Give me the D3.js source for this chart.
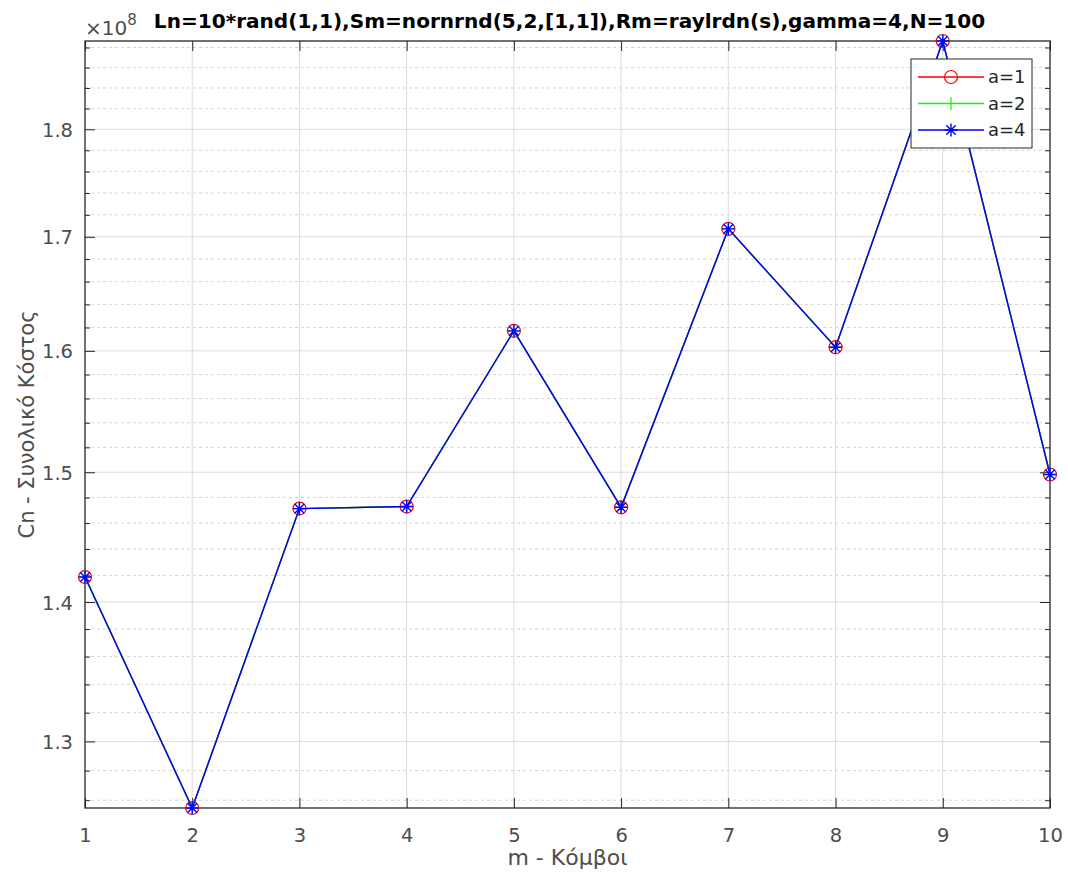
<!DOCTYPE html>
<html><head><meta charset="utf-8">
<script src="https://cdn.jsdelivr.net/npm/d3@7"></script>
<style>
html,body{margin:0;padding:0;background:#fff;}
svg{display:block;font-family:"DejaVu Sans",sans-serif;}
</style></head>
<body>
<svg id="chart" width="1068" height="884"></svg>
<script>
// ---- data ----
const nodes = [1,2,3,4,5,6,7,8,9,10];
const costA1 = [1.4187e8,1.2548e8,1.4713e8,1.4729e8,1.6171e8,1.4723e8,1.7072e8,1.6031e8,1.8865e8,1.4982e8];
const costA2 = [1.4187e8,1.2548e8,1.4713e8,1.4729e8,1.6171e8,1.4723e8,1.7072e8,1.6031e8,1.8865e8,1.4982e8];
const costA4 = [1.4187e8,1.2548e8,1.4713e8,1.4729e8,1.6171e8,1.4723e8,1.7072e8,1.6031e8,1.8865e8,1.4982e8];
const seriesNames = ["a=1","a=2","a=4"];
const yMajorTicks = [1.3e8,1.4e8,1.5e8,1.6e8,1.7e8,1.8e8];
const yMinorTicks = [1.26e8,1.28e8,1.32e8,1.34e8,1.36e8,1.38e8,1.42e8,1.44e8,1.46e8,1.48e8,1.52e8,1.54e8,1.56e8,1.58e8,1.62e8,1.64e8,1.66e8,1.68e8,1.72e8,1.74e8,1.76e8,1.78e8,1.82e8,1.84e8,1.86e8,1.88e8];
const xTicks = [1,2,3,4,5,6,7,8,9,10];
const titleText = "Ln=10*rand(1,1),Sm=nornrnd(5,2,[1,1]),Rm=raylrdn(s),gamma=4,N=100";
const xLabel = "m - Κόμβοι";
const yLabel = "Cn - Συνολικό Κόστος";

// ---- layout ----
const L = 85, R = 1050, T = 41, B = 808;
const FONT = '"DejaVu Sans",sans-serif';
const svg = d3.select("#chart");
const all = costA1.concat(costA2, costA4);
const x = d3.scaleLinear().domain([1,10]).range([L,R]);
const y = d3.scaleLog().domain([d3.min(all), d3.max(all)]).range([B,T]);

const axisCol = "#262626", labCol = "#4d4d4d";

// grid
const g = svg.append("g");
g.selectAll(".ymin").data(yMinorTicks.filter(v=>v>=y.domain()[0]&&v<=y.domain()[1])).enter().append("line")
  .attr("x1",L).attr("x2",R).attr("y1",d=>y(d)).attr("y2",d=>y(d))
  .attr("stroke","#d4d4d4").attr("stroke-width",1).attr("stroke-dasharray","3,3");
g.selectAll(".ymaj").data(yMajorTicks).enter().append("line")
  .attr("x1",L).attr("x2",R).attr("y1",d=>y(d)).attr("y2",d=>y(d))
  .attr("stroke","#dcdcdc").attr("stroke-width",1);
g.selectAll(".xmaj").data(xTicks.slice(1,-1)).enter().append("line")
  .attr("y1",T).attr("y2",B).attr("x1",d=>x(d)).attr("x2",d=>x(d))
  .attr("stroke","#dcdcdc").attr("stroke-width",1);

// axes via d3 axis generators (ticks inward)
const fmt = d=>(d/1e8).toFixed(1);
const yLeft = svg.append("g").attr("transform",`translate(${L},0)`)
  .call(d3.axisLeft(y).tickValues(yMajorTicks).tickFormat(fmt).tickSizeInner(-10).tickSizeOuter(0).tickPadding(12));
const yRight = svg.append("g").attr("transform",`translate(${R},0)`)
  .call(d3.axisRight(y).tickValues(yMajorTicks).tickFormat("").tickSizeInner(-10).tickSizeOuter(0));
const yLeftMin = svg.append("g").attr("transform",`translate(${L},0)`)
  .call(d3.axisLeft(y).tickValues(yMinorTicks).tickFormat("").tickSizeInner(-5).tickSizeOuter(0));
const yRightMin = svg.append("g").attr("transform",`translate(${R},0)`)
  .call(d3.axisRight(y).tickValues(yMinorTicks).tickFormat("").tickSizeInner(-5).tickSizeOuter(0));
const xBot = svg.append("g").attr("transform",`translate(0,${B})`)
  .call(d3.axisBottom(x).tickValues(xTicks).tickFormat(d3.format("d")).tickSizeInner(-10).tickSizeOuter(0).tickPadding(20));
const xTop = svg.append("g").attr("transform",`translate(0,${T})`)
  .call(d3.axisTop(x).tickValues(xTicks).tickFormat("").tickSizeInner(-10).tickSizeOuter(0));
[yLeft,yRight,yLeftMin,yRightMin,xBot,xTop].forEach(a=>{
  a.attr("font-family",FONT).attr("font-size",19.5);
  a.select(".domain").remove();
  a.selectAll("line").attr("stroke",axisCol);
  a.selectAll("text").attr("fill",labCol);
});
yLeft.selectAll("text").attr("dy","0.36em");

// box
svg.append("rect").attr("x",L).attr("y",T).attr("width",R-L).attr("height",B-T)
  .attr("fill","none").attr("stroke",axisCol).attr("stroke-width",1.3);

// series
const series = [
  {name:seriesNames[0], vals:costA1, color:"#ff0000", marker:"circle"},
  {name:seriesNames[1], vals:costA2, color:"#00ff00", marker:"plus"},
  {name:seriesNames[2], vals:costA4, color:"#0000ff", marker:"star"}
];
const line = d3.line().x((d,i)=>x(nodes[i])).y(d=>y(d));
function drawMarker(sel, type, color, cx, cy){
  const r = 6.5;
  if(type==="circle"){
    sel.append("circle").attr("cx",cx).attr("cy",cy).attr("r",r).attr("fill","none").attr("stroke",color).attr("stroke-width",1.2);
  } else if(type==="plus"){
    sel.append("path").attr("d",`M${cx-r},${cy}H${cx+r}M${cx},${cy-r}V${cy+r}`).attr("stroke",color).attr("stroke-width",1.2);
  } else {
    const a = r*0.72;
    sel.append("path").attr("d",`M${cx-r},${cy}H${cx+r}M${cx},${cy-r}V${cy+r}M${cx-a},${cy-a}L${cx+a},${cy+a}M${cx-a},${cy+a}L${cx+a},${cy-a}`)
      .attr("stroke",color).attr("stroke-width",1.4);
  }
}
const plot = svg.append("g");
series.forEach(s=>{
  plot.append("path").datum(s.vals).attr("d",line).attr("fill","none").attr("stroke",s.color).attr("stroke-width",1.4);
  s.vals.forEach((v,i)=>drawMarker(plot, s.marker, s.color, x(nodes[i]), y(v)));
});

// legend
const lg = svg.append("g");
const lx = 911, ly = 59, lw = 121, lh = 89;
lg.append("rect").attr("x",lx).attr("y",ly).attr("width",lw).attr("height",lh)
  .attr("fill","#fff").attr("stroke",axisCol).attr("stroke-width",1);
series.forEach((s,i)=>{
  const yy = ly + 18 + i*26.5;
  lg.append("line").attr("x1",lx+7).attr("x2",lx+73).attr("y1",yy).attr("y2",yy).attr("stroke",s.color).attr("stroke-width",1.3);
  drawMarker(lg, s.marker, s.color, lx+40, yy);
  lg.append("text").attr("x",lx+77).attr("y",yy).attr("dy","0.36em").text(s.name)
    .attr("fill","#262626").attr("font-family",FONT).attr("font-size",18);
});

// title and labels
const title = svg.append("text").attr("x",(L+R)/2+2).attr("y",28).attr("text-anchor","middle")
  .attr("font-family",FONT).attr("font-size",20).attr("font-weight","bold").attr("fill","#000").text(titleText);
// fit title font so its width matches the reference (~832px)
const tw = title.node().getComputedTextLength();
title.attr("font-size", Math.min(22, Math.max(17, 20*832/tw)));

const ex = svg.append("text").attr("x",L).attr("y",35).attr("fill",labCol).attr("font-family",FONT).attr("font-size",20);
ex.append("tspan").text("×10");
ex.append("tspan").attr("dy",-10).attr("font-size",15).text("8");
svg.append("text").attr("x",(L+R)/2).attr("y",865).attr("text-anchor","middle")
  .attr("font-family",FONT).attr("font-size",22).attr("fill",labCol).text(xLabel);
svg.append("text").attr("transform",`translate(34,${(T+B)/2}) rotate(-90)`).attr("text-anchor","middle")
  .attr("font-family",FONT).attr("font-size",21).attr("fill",labCol).text(yLabel);
</script>
</body></html>
